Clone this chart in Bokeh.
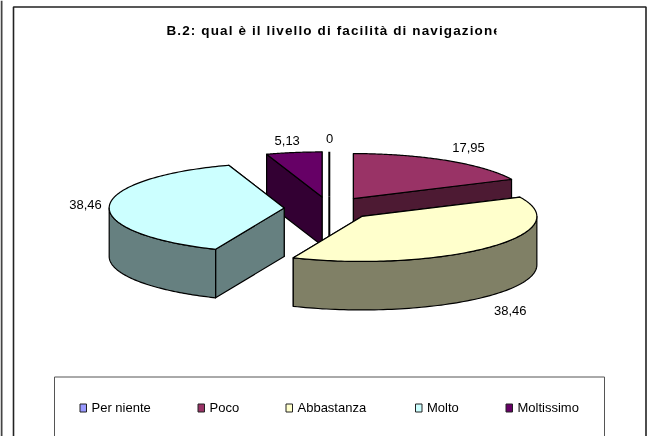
import numpy as np
from bokeh.document import Document
from bokeh.embed import file_html
from bokeh.resources import INLINE
from bokeh.models import Range1d, CustomJS
from bokeh.plotting import figure
from bokeh.core.properties import value as bv

# ---- data
TITLE = "B.2: qual è il livello di facilità di navigazione"
categories = ["Per niente", "Poco", "Abbastanza", "Molto", "Moltissimo"]
values = [0, 17.95, 38.46, 38.46, 5.13]
value_labels = ["0", "17,95", "38,46", "38,46", "5,13"]
top_colors = ["#9999FF", "#993366", "#FFFFCC", "#CCFFFF", "#660066"]
side_colors = ["#4D4D80", "#4D1A33", "#808066", "#668080", "#330033"]

# ---- layout (pixels of the page)
W, H = 652, 436
CX, CY = 328.8, 207.9          # pie centre
RX, RY = 175.0, 45.0           # top ellipse radii
DEPTH = 48.5                   # height of the cake
EXPLODE = 0.258                # explosion, share of the radius
DRAW_ORDER = [0, 4, 1, 3, 2]   # back to front
LABEL_XY = [(329, 138), (468, 147), (509.7, 309.7), (85, 204), (286.7, 139.5)]
LEGEND_MARK_X = [79.5, 197.5, 285.5, 415, 505.5]
LEGEND_Y = 407.5
FONT = "Liberation Sans"

p = figure(width=W, height=H, output_backend="svg", toolbar_location=None,
           x_range=Range1d(0, W), y_range=Range1d(H, 0),
           x_axis_type=None, y_axis_type=None, min_border=0,
           outline_line_color=None, background_fill_color="white",
           border_fill_color="white")
p.xgrid.visible = False
p.ygrid.visible = False
p.styles = {"position": "fixed", "left": "0", "top": "0"}

# frames of the page
p.segment([1], [0], [1], [H], line_color="#444444", line_width=2)
p.quad(left=[13], right=[645.5], top=[6.5], bottom=[H + 5], fill_color="white",
       line_color="#222222", line_width=1.6)

# pie built from the values
fr = np.cumsum([0] + values) / sum(values) * 2 * np.pi
def pt(ang, ox, oy, dz=0.0):
    return ox + RX * np.sin(ang), oy - RY * np.cos(ang) + dz

for i in DRAW_ORDER:
    a0, a1 = fr[i], fr[i + 1]
    mid = (a0 + a1) / 2
    ox = CX + EXPLODE * RX * np.sin(mid)
    oy = CY - EXPLODE * RY * np.cos(mid)
    top, side = top_colors[i], side_colors[i]
    if a1 - a0 < 1e-9:           # the empty slice is just a wall seen edge on
        x, y = pt(a0, ox, oy)
        p.line([ox, x], [oy, y], line_color="black", line_width=2)
        p.line([ox, ox], [oy, oy + DEPTH], line_color="black", line_width=2)
        continue
    # radial faces: the one turned away from the viewer goes first
    faces = [(a0, a0 - np.pi / 2), (a1, a1 + np.pi / 2)]
    faces.sort(key=lambda f: -np.cos(f[1]))
    for a, _ in faces:
        x, y = pt(a, ox, oy)
        p.patch([ox, x, x, ox], [oy, y, y + DEPTH, oy + DEPTH], fill_color=side,
                line_color="black", line_width=1.2, line_join="round")
    # outer wall, front part only
    lo, hi = max(a0, np.pi / 2), min(a1, 3 * np.pi / 2)
    if hi > lo:
        t = np.linspace(lo, hi, 80)
        xs, ys = pt(t, ox, oy)
        p.patch(list(xs) + list(xs[::-1]), list(ys) + list(ys[::-1] + DEPTH),
                fill_color=side, line_color="black", line_width=1.2, line_join="round")
    # top
    t = np.linspace(a0, a1, 120)
    xs, ys = pt(t, ox, oy)
    p.patch([ox] + list(xs), [oy] + list(ys), fill_color=top,
            line_color="black", line_width=1.2, line_join="round")

# value labels
p.text([q[0] for q in LABEL_XY], [q[1] for q in LABEL_XY], text=value_labels,
       text_font=bv(FONT), text_font_size="13px", text_color="black",
       text_align="center", text_baseline="middle")

# title, clipped at its right end as in the picture
p.text([166], [30], text=[TITLE], text_font=bv(FONT), text_font_size="13.5px",
       text_font_style="bold", text_color="black", text_align="left",
       text_baseline="middle")
p.quad(left=[496], right=[540], top=[20], bottom=[42], fill_color="white", line_color=None)

# legend
p.quad(left=[54], right=[604], top=[376.5], bottom=[H + 5], fill_color="white",
       line_color="#555555", line_width=1)
mx = np.array(LEGEND_MARK_X)
p.quad(left=mx, right=mx + 6.5, top=LEGEND_Y - 4, bottom=LEGEND_Y + 4,
       fill_color=top_colors, line_color="#222222", line_width=1)
p.text(mx + 11.5, [LEGEND_Y - 0.5] * 5, text=categories, text_font=bv(FONT),
       text_font_size="13px", text_color="black", text_baseline="middle")

# the title's letters are spaced wide in the picture
doc = Document()
doc.add_root(p)
doc.js_on_event("document_ready", CustomJS(code="""
function walk(n){
  if(n.shadowRoot) walk(n.shadowRoot);
  for(const c of n.children||[]){
    if(c.tagName && c.tagName.toLowerCase()==='text' && c.textContent.startsWith('B.2')){
      c.setAttribute('letter-spacing','1.12');
    }
    walk(c);
  }
}
function go(){ walk(document.body); }
go(); setTimeout(go,20); setTimeout(go,100); setTimeout(go,300);
"""))

open("out.html", "w").write(file_html(p, INLINE))
